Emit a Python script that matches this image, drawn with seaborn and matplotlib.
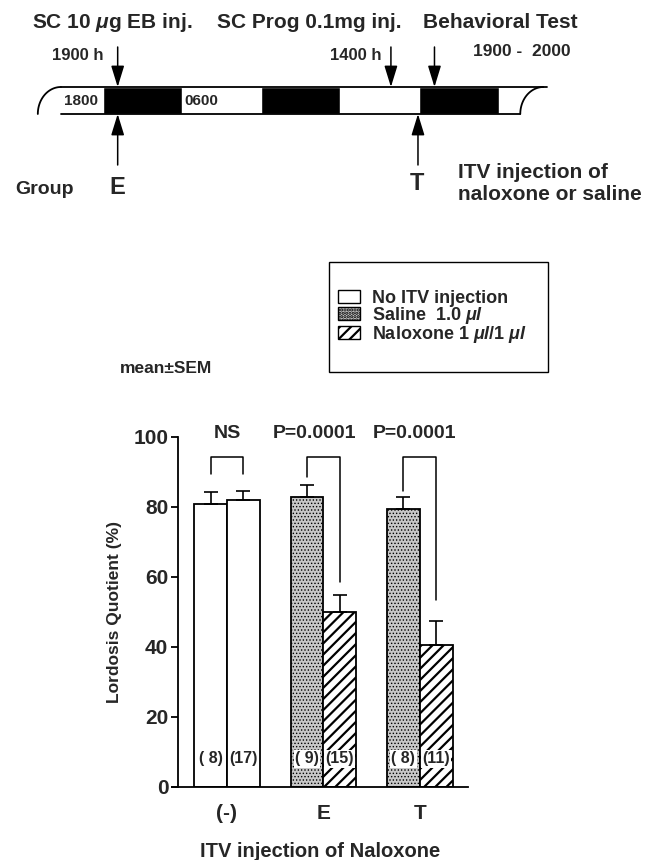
import numpy as np
import pandas as pd
import matplotlib
matplotlib.use("Agg")
import matplotlib.pyplot as plt
from matplotlib.patches import Patch, Rectangle
import seaborn as sns

# ------------------------------------------
# Data
# ------------------------------------------

groups = ["(-)", "(-)", "E", "E", "T", "T"]
slots = ["left", "right", "left", "right", "left", "right"]
treatments = ["none", "none", "saline", "naloxone", "saline", "naloxone"]
lq_mean = [81.0, 82.0, 83.0, 50.0, 79.5, 40.5]
lq_sem = [3.2, 2.6, 3.3, 4.8, 3.3, 7.0]
n_rats = [8, 17, 9, 15, 8, 11]
bracket_foot = [89.5, 89.5, 88.5, 58.5, 84.5, 53.5]
bracket_top = 94.3
group_order = ["(-)", "E", "T"]
stat_text = ["NS", "P=0.0001", "P=0.0001"]

legend_labels = ["No ITV injection", "Saline  1.0 $\\mu l$", "Naloxone 1 $\\mu l$/1 $\\mu l$"]

# timeline, hours counted from 1800 h of the first day
phase_start = [-9.8, 0, 12, 24, 36, 48, 60]
phase_end = [0, 12, 24, 36, 48, 60, 63.3]
phase_dark = [False, True, False, True, False, True, False]
down_events = [2.3, 43.7, 50.3]   # EB inj., Prog inj., behavioral test
up_events = [2.3, 47.8]           # group E, group T

# ------------------------------------------
# Style
# ------------------------------------------

sns.set_style("ticks")
plt.rcParams["font.family"] = ["Liberation Sans", "DejaVu Sans"]
plt.rcParams["font.weight"] = "bold"
plt.rcParams["axes.labelweight"] = "bold"
plt.rcParams["mathtext.fontset"] = "custom"
plt.rcParams["mathtext.rm"] = "Liberation Sans:bold"
plt.rcParams["mathtext.it"] = "Liberation Sans:italic:bold"
plt.rcParams["hatch.linewidth"] = 1.6

W, H = 647, 860
fig = plt.figure(figsize=(W / 100, H / 100), dpi=100)


def fx(x):
    return x / W


def fy(y):
    return 1 - y / H


style = {
    "none": ("white", ""),
    "saline": ("#c8c8c8", "....."),
    "naloxone": ("white", "///"),
}

# ------------------------------------------
# Timeline schematic (top)
# ------------------------------------------

ax_t = fig.add_axes([0, fy(220), 1, 220 / H])
px_per_h = 6.6
ax_t.set_xlim((0 - 102.5) / px_per_h, (W - 102.5) / px_per_h)
ax_t.set_ylim(220, 0)
ax_t.axis("off")

y_top, y_bot = 87, 114
dark = [(s, e - s) for s, e, d in zip(phase_start, phase_end, phase_dark) if d]
ax_t.broken_barh(dark, (y_top, y_bot - y_top), facecolors="black")

bar_start, bar_end = phase_start[0], phase_end[-1]
curl = 3.5
theta = np.linspace(0, np.pi / 2, 40)
for x0 in [bar_start, bar_end]:
    ax_t.plot(x0 + curl - curl * np.cos(theta), y_bot - (y_bot - y_top) * np.sin(theta),
              color="black", lw=1.3)
ax_t.plot([bar_start + curl, bar_end + curl + 0.5], [y_top, y_top], color="black", lw=1.3)
ax_t.plot([bar_start + curl, bar_end], [y_bot, y_bot], color="black", lw=1.3)

arrow = dict(arrowstyle="-|>,head_length=0.65,head_width=0.2", color="black",
             lw=1.1, shrinkA=0, shrinkB=0, mutation_scale=20)
for t in down_events:
    ax_t.annotate("", xy=(t, y_top), xytext=(t, 47), arrowprops=arrow)
for t in up_events:
    ax_t.annotate("", xy=(t, y_bot), xytext=(t, 165), arrowprops=arrow)

fig.text(fx(32), fy(23), "SC 10 $\\mu$g EB inj.", fontsize=15, va="center")
fig.text(fx(217), fy(23), "SC Prog 0.1mg inj.", fontsize=15, va="center")
fig.text(fx(423), fy(23), "Behavioral Test", fontsize=15, va="center")
fig.text(fx(52), fy(55), "1900 h", fontsize=12, va="center")
fig.text(fx(330), fy(55), "1400 h", fontsize=12, va="center")
fig.text(fx(473), fy(52), "1900 -  2000", fontsize=12.5, va="center")
fig.text(fx(98), fy(101), "1800", fontsize=11, va="center", ha="right")
fig.text(fx(184), fy(101), "0600", fontsize=11, va="center")
fig.text(fx(44), fy(190), "Group", fontsize=14, va="center", ha="center")
fig.text(fx(117), fy(188), "E", fontsize=17, va="center", ha="center")
fig.text(fx(417), fy(183), "T", fontsize=17, va="center", ha="center")
fig.text(fx(458), fy(172), "ITV injection of", fontsize=15, va="center")
fig.text(fx(458), fy(195), "naloxone or saline", fontsize=15, va="center")

# ------------------------------------------
# Bar chart
# ------------------------------------------

df = pd.DataFrame({
    "group": groups,
    "slot": slots,
    "treatment": treatments,
    "lq": lq_mean,
    "sem": lq_sem,
    "n": n_rats,
})

ax = fig.add_axes([fx(172), fy(787), (468 - 172) / W, (787 - 437) / H])
sns.barplot(data=df, x="group", y="lq", hue="slot", order=group_order,
            palette=["white", "white"], edgecolor="black", linewidth=1.3,
            width=0.68, gap=0, errorbar=None, legend=False, ax=ax)

bars = sorted([p for p in ax.patches if p.get_height() > 0], key=lambda p: p.get_x())
centers = []
for p, tr in zip(bars, df["treatment"]):
    fc, hatch = style[tr]
    p.set_facecolor(fc)
    p.set_hatch(hatch)
    if tr == "saline" and hasattr(p, "set_hatch_linewidth"):
        p.set_hatch_linewidth(0.6)
    centers.append(p.get_x() + p.get_width() / 2)

ax.errorbar(centers, df["lq"], yerr=[np.zeros(len(df)), df["sem"]], fmt="none",
            ecolor="black", elinewidth=1.2, capsize=5, capthick=1.2)

# significance brackets
label_shift = [0.0, -0.09, -0.05]
for i in range(len(group_order)):
    xl, xr = centers[2 * i], centers[2 * i + 1]
    ax.plot([xl, xl, xr, xr], [bracket_foot[2 * i], bracket_top, bracket_top, bracket_foot[2 * i + 1]],
            color="black", lw=1.1, clip_on=False)
    ax.text(i + label_shift[i], 101, stat_text[i], ha="center", va="center",
            fontsize=14, clip_on=False)

# sample sizes
for c, n in zip(centers, df["n"]):
    ax.text(c, 8, f"({n:2d})", ha="center", va="center", fontsize=11.5,
            bbox=dict(facecolor="white", edgecolor="none", pad=1))

ax.set_ylim(0, 100)
ax.set_xlim(-0.57, 2.5)
ax.set_yticks([0, 20, 40, 60, 80, 100])
sns.despine(ax=ax)
ax.spines["left"].set_position(("axes", 6 / 296))
for s in ["left", "bottom"]:
    ax.spines[s].set_linewidth(1.3)
    ax.spines[s].set_color("black")
ax.tick_params(axis="y", length=5, width=1.3, pad=2, labelsize=15, color="black")
ax.tick_params(axis="x", length=0, pad=12, labelsize=15)
ax.set_ylabel("Lordosis Quotient (%)", fontsize=12.5, fontweight="bold", labelpad=8)
ax.set_xlabel("ITV injection of Naloxone", fontsize=14.5, fontweight="bold", labelpad=14)

fig.text(fx(120), fy(368), "mean\u00b1SEM", fontsize=12.5, va="center")

# legend: frame drawn as its own box, entries placed inside
fig.add_artist(Rectangle((fx(329), fy(372)), fx(548) - fx(329), fy(262) - fy(372),
                         transform=fig.transFigure, facecolor="white",
                         edgecolor="black", lw=1.0))
handles = [Patch(facecolor=style[k][0], hatch=style[k][1], edgecolor="black", lw=1.0)
           for k in ["none", "saline", "naloxone"]]
leg = fig.legend(handles, legend_labels, loc="upper left",
                 bbox_to_anchor=(fx(334), fy(286)), frameon=False,
                 fontsize=13, borderpad=0.2, handlelength=1.25, handleheight=0.7,
                 handletextpad=0.65, labelspacing=-0.1, borderaxespad=0)

fig.savefig("out.png", dpi=100)
